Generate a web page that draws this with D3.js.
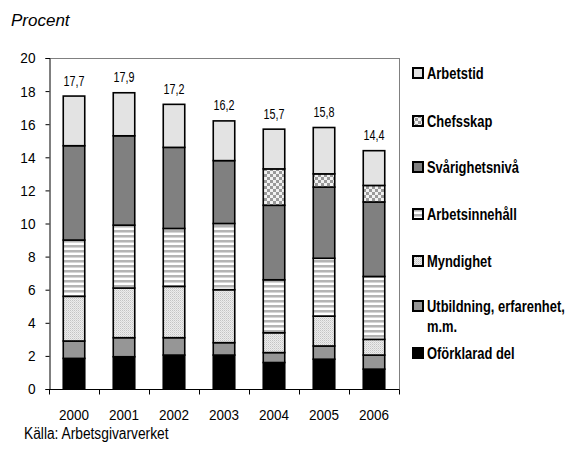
<!DOCTYPE html>
<html>
<head>
<meta charset="utf-8">
<script src="https://cdn.jsdelivr.net/npm/d3@7"></script>
<style>
  html, body { margin: 0; padding: 0; background: #fff; }
  svg { display: block; }
  .narrow { font-family: "Liberation Sans Narrow", "Arial Narrow", "Liberation Sans", Arial, sans-serif; }
</style>
</head>
<body>
<svg id="chart" width="571" height="450"></svg>
<script>
// ---- Data ----
const years = ["2000", "2001", "2002", "2003", "2004", "2005", "2006"];
// stack order bottom -> top
const seriesNames = ["Oförklarad del", "Utbildning, erfarenhet, m.m.", "Myndighet", "Arbetsinnehåll", "Svårighetsnivå", "Chefsskap", "Arbetstid"];
const oforklarad   = [1.85, 1.95, 2.05, 2.05, 1.6, 1.8, 1.2];
const utbildning   = [1.05, 1.15, 1.05, 0.75, 0.6, 0.8, 0.85];
const myndighet    = [2.7, 3.0, 3.1, 3.2, 1.2, 1.8, 0.95];
const arbetsinneh  = [3.4, 3.8, 3.5, 4.0, 3.2, 3.5, 3.8];
const svarighet    = [5.7, 5.4, 4.9, 3.8, 4.5, 4.3, 4.5];
const chefsskap    = [0, 0, 0, 0, 2.2, 0.8, 1.0];
const arbetstid    = [3.0, 2.6, 2.6, 2.4, 2.4, 2.8, 2.1];
const yTicks = [0, 2, 4, 6, 8, 10, 12, 14, 16, 18, 20];

const seriesValues = [oforklarad, utbildning, myndighet, arbetsinneh, svarighet, chefsskap, arbetstid];

// ---- Build table ----
const keys = seriesNames;
const table = years.map((y, i) => {
  const row = { year: y };
  keys.forEach((k, j) => row[k] = seriesValues[j][i]);
  return row;
});
const stacked = d3.stack().keys(keys)(table);

// horizontally condense text (no condensed font available)
function squeeze(sel, f) {
  sel.each(function () {
    const w = this.getComputedTextLength();
    d3.select(this).attr("textLength", w * f).attr("lengthAdjust", "spacingAndGlyphs");
  });
}

const svg = d3.select("#chart");
const defs = svg.append("defs");

// Patterns
const pM = defs.append("pattern").attr("id", "pMynd").attr("patternUnits", "userSpaceOnUse")
  .attr("width", 2).attr("height", 2);
pM.append("rect").attr("width", 2).attr("height", 2).attr("fill", "#ececec");
pM.append("rect").attr("width", 1).attr("height", 1).attr("fill", "#c4c4c4");
pM.append("rect").attr("x", 1).attr("y", 1).attr("width", 1).attr("height", 1).attr("fill", "#d8d8d8");

const pA = defs.append("pattern").attr("id", "pArb").attr("patternUnits", "userSpaceOnUse")
  .attr("width", 4).attr("height", 5);
pA.append("rect").attr("width", 4).attr("height", 5).attr("fill", "#ffffff");
pA.append("rect").attr("y", 0).attr("width", 4).attr("height", 2).attr("fill", "#b4b4b4");
pA.append("rect").attr("y", 2).attr("width", 4).attr("height", 1).attr("fill", "#d6d6d6");

const pC = defs.append("pattern").attr("id", "pChef").attr("patternUnits", "userSpaceOnUse")
  .attr("width", 6).attr("height", 6);
pC.append("rect").attr("width", 6).attr("height", 6).attr("fill", "#f2f2f2");
pC.append("rect").attr("width", 3).attr("height", 3).attr("fill", "#9a9a9a");
pC.append("rect").attr("x", 3).attr("y", 3).attr("width", 3).attr("height", 3).attr("fill", "#9a9a9a");

const fills = {
  "Oförklarad del": "#000000",
  "Utbildning, erfarenhet, m.m.": "#969696",
  "Myndighet": "url(#pMynd)",
  "Arbetsinnehåll": "url(#pArb)",
  "Svårighetsnivå": "#808080",
  "Chefsskap": "url(#pChef)",
  "Arbetstid": "#e3e3e3"
};

// ---- Scales ----
const x = d3.scaleBand().domain(years).range([49, 399]).paddingInner(0.57).paddingOuter(0.285);
const y = d3.scaleLinear().domain([0, 20]).range([389, 58]);

// Plot frame (top & right, gray)
svg.append("line").attr("x1", 49).attr("x2", 399.5).attr("y1", 58.5).attr("y2", 58.5)
  .attr("stroke", "#808080").attr("stroke-width", 1);
svg.append("line").attr("x1", 399.5).attr("x2", 399.5).attr("y1", 58).attr("y2", 389)
  .attr("stroke", "#808080").attr("stroke-width", 1);

// Bars
const layer = svg.append("g").selectAll("g").data(stacked).join("g")
  .attr("fill", d => fills[d.key]);
layer.selectAll("rect").data(d => d.filter(s => s[1] - s[0] > 0)).join("rect")
  .attr("x", d => x(d.data.year))
  .attr("width", x.bandwidth())
  .attr("y", d => y(d[1]))
  .attr("height", d => y(d[0]) - y(d[1]))
  .attr("stroke", "#000").attr("stroke-width", 1.6);

// Totals
const fmt = d3.format(".1f");
const totals = svg.append("g").selectAll("text").data(table).join("text")
  .attr("class", "narrow")
  .attr("x", d => x(d.year) + x.bandwidth() / 2)
  .attr("y", d => y(d3.sum(keys, k => d[k])) - 10.5)
  .attr("text-anchor", "middle")
  .attr("font-size", 15)
  .attr("fill", "#000")
  .text(d => fmt(d3.sum(keys, k => d[k])).replace(".", ","));
squeeze(totals, 0.72);

// Y axis
const yAxis = svg.append("g").attr("transform", "translate(49.5,0)")
  .call(d3.axisLeft(y).tickValues(yTicks).tickSize(4).tickPadding(10).tickFormat(d3.format("d")));
yAxis.attr("font-family", null);
yAxis.select(".domain").attr("stroke", "#000");
yAxis.selectAll("text").attr("class", "narrow").attr("font-size", 15.5).attr("fill", "#000");
yAxis.selectAll(".tick line").attr("stroke", "#000");
squeeze(yAxis.selectAll("text"), 0.88);

// X axis
const xAxis = svg.append("g").attr("transform", "translate(0,389.5)")
  .call(d3.axisBottom(x).tickSize(0).tickPadding(19));
xAxis.attr("font-family", null);
xAxis.select(".domain").attr("stroke", "#000").attr("d", "M49,0H399.5");
xAxis.selectAll("text").attr("class", "narrow").attr("font-size", 15.5).attr("fill", "#000");
squeeze(xAxis.selectAll("text"), 0.87);
const bounds = years.map(yr => x(yr) - x.step() * x.paddingInner() / 2).concat([399]);
xAxis.append("g").selectAll("line").data(bounds).join("line")
  .attr("x1", d => Math.round(d) + 0.5).attr("x2", d => Math.round(d) + 0.5)
  .attr("y1", 0).attr("y2", 5).attr("stroke", "#000");

// Title
svg.append("text").attr("x", 11).attr("y", 26)
  .attr("font-family", "Liberation Sans, Arial, sans-serif")
  .attr("font-style", "italic").attr("font-size", 17).attr("fill", "#000")
  .text("Procent");

// Source
const src = svg.append("text").attr("class", "narrow").attr("x", 24).attr("y", 439)
  .attr("font-size", 16).attr("fill", "#000")
  .text("Källa: Arbetsgivarverket");
squeeze(src, 0.86);

// Legend
const legendItems = seriesNames.slice().reverse();
const legendY = [73, 121, 167, 214, 261, 306, 353];
const lg = svg.append("g");
legendItems.forEach((name, i) => {
  const g = lg.append("g").attr("transform", `translate(412,${legendY[i]})`);
  g.append("rect").attr("x", 1).attr("y", -5).attr("width", 10).attr("height", 10)
    .attr("fill", fills[name]).attr("stroke", "#000").attr("stroke-width", 2);
  const t = g.append("text").attr("class", "narrow").attr("x", 15).attr("y", 6)
    .attr("font-size", 17).attr("font-weight", "bold").attr("fill", "#000");
  if (name.startsWith("Utbildning")) {
    t.append("tspan").attr("x", 15).attr("y", 6).text("Utbildning, erfarenhet,");
    t.append("tspan").attr("x", 15).attr("y", 26).text("m.m.");
    squeeze(t.selectAll("tspan"), 0.76);
  } else {
    t.text(name);
    squeeze(t, 0.76);
  }
});
</script>
</body>
</html>
